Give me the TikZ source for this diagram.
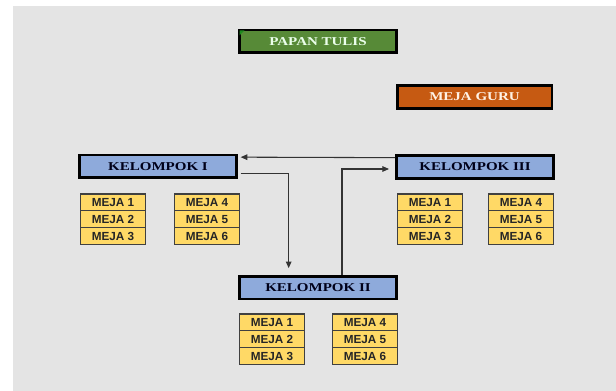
\documentclass[tikz,border=0pt]{standalone}
\usepackage{fontspec}
\setmainfont{Liberation Serif}
\newfontfamily\hdrfont[FakeStretch=1.25]{Liberation Serif}
\newfontfamily\cellfont{Liberation Sans}
\usetikzlibrary{arrows.meta,calc}
\definecolor{bgray}{HTML}{E4E4E4}
\definecolor{boardgreen}{HTML}{578A37}
\definecolor{markgreen}{HTML}{1E8A1E}
\definecolor{deskorange}{HTML}{C65A12}
\definecolor{groupblue}{HTML}{8EAADB}
\definecolor{deskyellow}{HTML}{FFD966}
\tikzset{
  hdr/.style={draw=black, line width=2pt, minimum height=17pt, inner sep=0pt,
    font=\hdrfont\bfseries\fontsize{9}{10}\selectfont},
  board/.style={hdr, fill=boardgreen, text=white!92!green, minimum width=118pt},
  teacher/.style={hdr, fill=deskorange, text=white!90!orange, minimum width=116pt},
  group/.style={hdr, fill=groupblue, text=black!90!blue, minimum width=118pt},
  desk/.style={draw=black!75, line width=0.9pt, fill=deskyellow, text=black!85,
    minimum width=49pt, minimum height=12.6pt, inner sep=0pt,
    font=\cellfont\bfseries\fontsize{8.8}{10}\selectfont},
  link/.style={draw=black!80, line width=0.8pt, -{Triangle[length=5pt,width=4.2pt]}}
}
% a block of three desks: #1 name prefix, #2 x, #3 top y, #4 first number
\newcommand\deskblock[4]{%
  \foreach \i [evaluate=\i as \n using int(\i+#4)] in {0,1,2}{%
    \node[desk] (#1\i) at (#2, #3+8.4+16.8*\i) {MEJA \n};
  }%
}
\begin{document}
\begin{tikzpicture}[x=0.75pt, y=-0.75pt]
  \useasboundingbox (0,0) rectangle (616,391);
  \fill[white] (0,0) rectangle (616,391);
  \fill[bgray] (13,6) rectangle (616,391);

  % front of the classroom
  \node[board] (papan) at (318,41.5) {PAPAN TULIS};
  \fill[markgreen] (papan.north west) ++(1.5,1.5) -- ++(5,0) -- ++(-5,5) -- cycle;
  \node[teacher] (guru) at (474.5,97) {MEJA GURU};

  % groups
  \node[group] (k1) at (158,166.5) {KELOMPOK I};
  \node[group] (k3) at (475,167) {KELOMPOK III};
  \node[group] (k2) at (318,287.5) {KELOMPOK II};

  % desks of each group
  \deskblock{ga}{113}{194}{1}
  \deskblock{gb}{207}{194}{4}
  \deskblock{gc}{430}{194}{1}
  \deskblock{gd}{521}{194}{4}
  \deskblock{ge}{272}{314}{1}
  \deskblock{gf}{365}{314}{4}

  % rotation between groups
  \coordinate (t1) at ([yshift=-2.5pt]k3.north west);
  \coordinate (h1) at ([yshift=-2.5pt,xshift=2pt]k1.north east);
  \draw[link] (t1) -- (h1);
  \coordinate (t2) at ([yshift=4pt,xshift=2pt]k1.south east);
  \coordinate (h2) at ([xshift=-22pt,yshift=5pt]k2.north);
  \draw[link] (t2) -| (h2);
  \coordinate (t3) at ([xshift=18pt]k2.north);
  \coordinate (h3) at ([yshift=-1.5pt,xshift=-4.5pt]k3.west);
  \draw[link] (t3) |- (h3);
\end{tikzpicture}
\end{document}
